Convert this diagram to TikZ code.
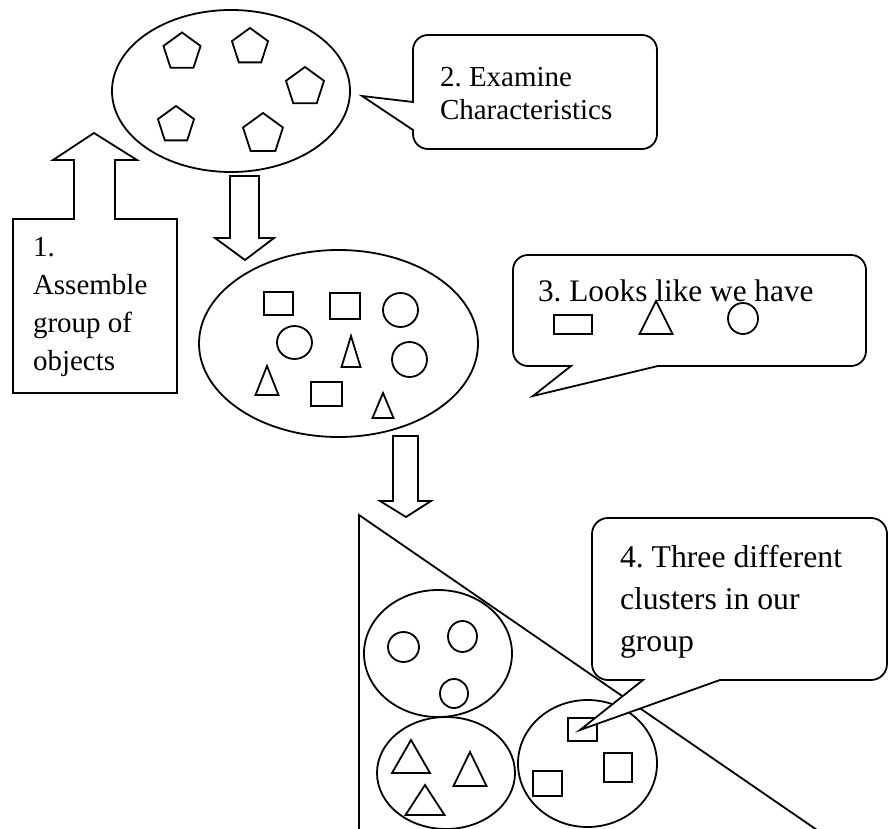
\documentclass[tikz,border=0pt]{standalone}
\usepackage{fontspec}
\setmainfont{Liberation Serif}
\usetikzlibrary{shapes.geometric}
\frenchspacing
\begin{document}
\begin{tikzpicture}[x=1pt,y=-1pt, line width=1.8pt, line join=miter,
  shp/.style={draw, inner sep=0pt, outer sep=0pt},
  pent/.style={shp, regular polygon, regular polygon sides=5, minimum size=#1pt},
  ell/.style args={#1/#2}{shp, ellipse, minimum width=#1pt, minimum height=#2pt},
  rbox/.style args={#1/#2}{shp, rectangle, minimum width=#1pt, minimum height=#2pt},
  bubble/.style={draw, fill=white},
  blockarrow/.style={draw, fill=white},
  txt/.style={anchor=north west, inner sep=0pt, outer sep=0pt, align=left},
  pics/tri/.style args={#1/#2}{code={\draw (0,0) -- (#1,#2) -- (-#1,#2) -- cycle;}}]
\useasboundingbox (0,0) rectangle (889,829);
\fill[white] (0,0) rectangle (889,829);

% big triangle
\coordinate (bt1) at (359,830);
\coordinate (bt2) at (359,515);
\coordinate (bt3) at (817,830);
\draw (bt1) -- (bt2) -- (bt3);

% ellipse 1 with pentagons
\node[ell=238/162] (e1) at (231,91) {};
\node[pent=39] (p1) at (182,52) {};
\node[pent=38] (p2) at (250,47) {};
\node[pent=40] (p3) at (305,87) {};
\node[pent=38] (p4) at (176,125) {};
\node[pent=42] (p5) at (263,134) {};

% ellipse 2 mixed shapes
\node[ell=279/187] (e2) at (338.5,343.5) {};
\node[rbox=29/23] (r1) at (278.5,303.5) {};
\node[rbox=30/26] (r2) at (345,306) {};
\node[rbox=31/24] (r3) at (326.5,394) {};
\node[ell=35/34] (c1) at (400.5,310) {};
\node[ell=35/33] (c2) at (294.5,342.5) {};
\node[ell=35/35] (c3) at (409.5,359.5) {};
\pic (tr1) at (351,336) {tri=9.5/31};
\pic (tr2) at (267,366) {tri=11.5/29};
\pic (tr3) at (383,393) {tri=10.5/25};

% clusters
\node[ell=148/127] (ec) at (438,653.5) {};
\node[ell=31/30] (ca) at (403.5,647) {};
\node[ell=29/31] (cb) at (462.5,636.5) {};
\node[ell=28/29] (cc) at (454,693.5) {};

\node[ell=138/112] (et) at (446,773) {};
\pic (ta) at (411,740) {tri=19/33};
\pic (tb) at (470,752) {tri=16.5/34};
\pic (tc) at (425,785) {tri=19.5/30};

\node[ell=139/127] (es) at (587.5,763.5) {};
\node[rbox=29/23] (s1) at (582.5,729.5) {};
\node[rbox=28/29] (s2) at (618,767.5) {};
\node[rbox=29/25] (s3) at (547.5,783.5) {};

% block arrow 1 (box with up arrow)
\draw[blockarrow] (13,393) -- (13,219) -- (74,219) -- (74,160) -- (53,160) -- (94,133)
  -- (137,160) -- (115,160) -- (115,219) -- (177,219) -- (177,393) -- cycle;
\node[txt, font=\fontsize{29}{38}\selectfont] (t1) at (33,237) {1.\\Assemble\\group of\\objects};

% down arrows
\draw[blockarrow] (230,176) -- (259,176) -- (259,238) -- (274,238) -- (245,260)
  -- (215,238) -- (230,238) -- cycle;
\draw[blockarrow] (393,436) -- (418,436) -- (418,501) -- (431,501) -- (406,517)
  -- (380,501) -- (393,501) -- cycle;

% callout 2
\draw[bubble] (413,102) -- (362,96) -- (413,130) [rounded corners=15pt] -- (413,149)
  -- (657,149) -- (657,35) -- (413,35) [sharp corners] -- cycle;
\node[txt, font=\fontsize{29}{33}\selectfont] (t2) at (440,67) {2. Examine\\Characteristics};

% callout 3
\draw[bubble] (571,366) -- (533,396) -- (658,366) [rounded corners=15pt] -- (866,366)
  -- (866,255) -- (513,255) -- (513,366) [sharp corners] -- cycle;
\node[txt, font=\fontsize{31.3}{38}\selectfont] (t3) at (538,280) {3. Looks like we have};
\node[rbox=38/19] (k1) at (573,324.5) {};
\pic (k2) at (656,301) {tri=16.5/33};
\node[ell=30/31] (k3) at (743,318.5) {};

% callout 4
\draw[bubble] (643,680) -- (580,730) -- (720,680) [rounded corners=16pt] -- (887,680)
  -- (887,518) -- (592,518) -- (592,680) [sharp corners] -- cycle;
\node[txt, font=\fontsize{31.7}{42}\selectfont] (t4) at (620,545) {4. Three different\\clusters in our\\group};
\end{tikzpicture}
\end{document}
